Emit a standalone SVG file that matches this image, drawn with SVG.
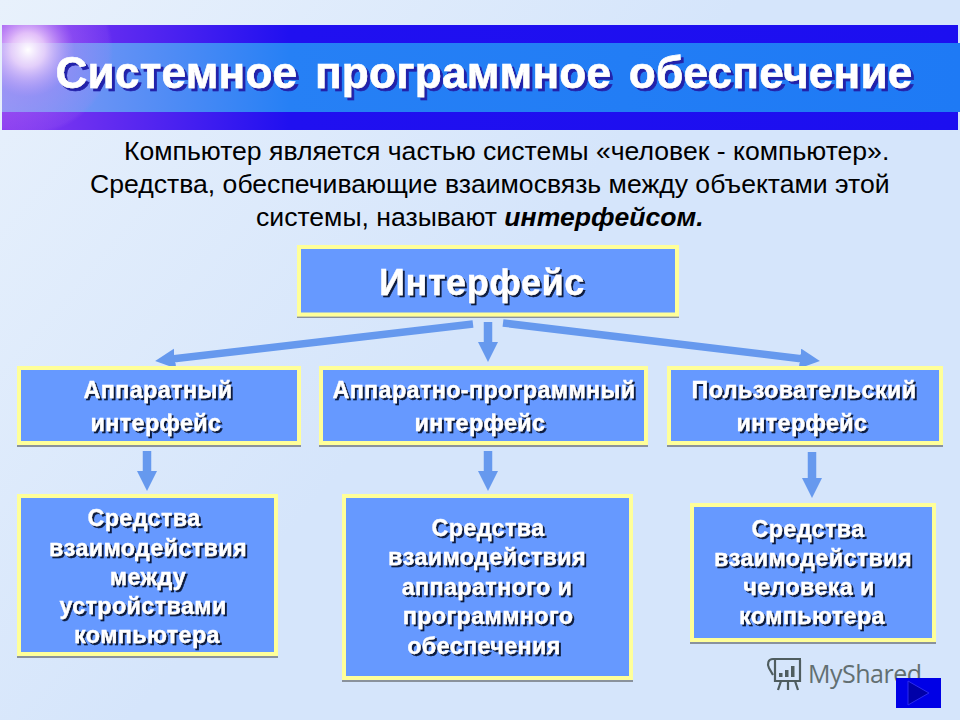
<svg xmlns="http://www.w3.org/2000/svg" width="960" height="720" viewBox="0 0 960 720">
<style>
text{font-family:"Liberation Sans",Arial,sans-serif}
.b{font-size:23.3px;font-weight:bold;fill:#fff;stroke:#fff;stroke-width:.3;text-anchor:middle;letter-spacing:.4px;filter:url(#ts)}
.p{font-size:26.6px;fill:#000}
.box{fill:#6699ff;stroke:#ffff99;stroke-width:4;filter:url(#bs)}
.cn{fill:none;stroke:#6699ee;stroke-width:8.5;marker-end:url(#ah)}
.sl{stroke-width:7.5}
</style>
<defs>
<linearGradient id="bg" x1="0" y1="0" x2=".55" y2=".35"><stop offset="0" stop-color="#e8f1fc"/><stop offset="1" stop-color="#d5e5fb"/></linearGradient>
<linearGradient id="dark" x1="0" y1="0" x2="1" y2="0"><stop offset="0" stop-color="#8a3cf0"/><stop offset=".3" stop-color="#2010f0"/><stop offset="1" stop-color="#1c0ff0"/></linearGradient>
<linearGradient id="mid" x1="0" y1="0" x2="1" y2="0"><stop offset="0" stop-color="#8a9cf5"/><stop offset=".3" stop-color="#2680f5"/><stop offset="1" stop-color="#1e7af5"/></linearGradient>
<radialGradient id="flare" gradientUnits="userSpaceOnUse" cx="28" cy="50" r="85"><stop offset="0" stop-color="#fff" stop-opacity="1"/><stop offset=".2" stop-color="#f4d8fb" stop-opacity=".85"/><stop offset=".55" stop-color="#c080f5" stop-opacity=".3"/><stop offset=".95" stop-color="#c080f5" stop-opacity=".12"/><stop offset="1" stop-color="#c080f5" stop-opacity="0"/></radialGradient>
<filter id="ts" x="-10%" y="-20%" width="120%" height="150%"><feDropShadow dx="2" dy="2" stdDeviation=".6" flood-color="#101c40"/></filter>
<filter id="tt" x="-5%" y="-20%" width="110%" height="150%"><feDropShadow dx="3" dy="3" stdDeviation=".4" flood-color="#2222aa"/></filter>
<filter id="bs" x="-5%" y="-5%" width="110%" height="110%"><feDropShadow dx="0" dy="2" stdDeviation="0" flood-color="#8a929c"/></filter>
<marker id="ah" markerUnits="userSpaceOnUse" markerWidth="22" markerHeight="22" refX="1" refY="10" orient="auto"><path d="M0 0L20 10L0 20Z" fill="#6699ee"/></marker>
</defs>
<rect width="960" height="720" fill="url(#bg)"/>
<g id="title">
<rect x="2" y="25" width="956" height="105" fill="url(#dark)"/>
<rect x="2" y="43" width="958" height="69" fill="url(#mid)"/>
<rect x="2" y="25" width="120" height="105" fill="url(#flare)"/>
<text x="484" y="88" text-anchor="middle" font-size="44" font-weight="bold" fill="#fff" stroke="#fff" stroke-width=".6" letter-spacing=".3" word-spacing="5" filter="url(#tt)">Системное программное обеспечение</text>
</g>
<g id="intro">
<text class="p" x="124" y="160">Компьютер является частью системы «человек - компьютер».</text>
<text class="p" x="90" y="193">Средства, обеспечивающие взаимосвязь между объектами этой</text>
<text class="p" x="256" y="226">системы, называют <tspan font-weight="bold" font-style="italic">интерфейсом.</tspan></text>
</g>
<g id="connectors">
<line class="cn sl" x1="473" y1="324" x2="174" y2="358.8"/>
<line class="cn" x1="488" y1="322" x2="488" y2="343"/>
<line class="cn sl" x1="503" y1="323" x2="801" y2="358.7"/>
<line class="cn" x1="147" y1="451" x2="147" y2="472"/>
<line class="cn" x1="488" y1="451" x2="488" y2="472"/>
<line class="cn" x1="812" y1="452" x2="812" y2="479"/>
</g>
<g id="n-interface"><rect class="box" x="299" y="247" width="378" height="67.5"/>
<text x="482" y="295" text-anchor="middle" font-size="36" font-weight="bold" fill="#fff" stroke="#fff" stroke-width=".3" letter-spacing=".6" filter="url(#ts)">Интерфейс</text></g>
<g id="n-hw"><rect class="box" x="19" y="368" width="280" height="75"/>
<text class="b" x="158" y="398">Аппаратный</text><text class="b" x="156" y="431">интерфейс</text></g>
<g id="n-hwsw"><rect class="box" x="321" y="368" width="325" height="75"/>
<text class="b" x="484" y="398">Аппаратно-программный</text><text class="b" x="480" y="431">интерфейс</text></g>
<g id="n-user"><rect class="box" x="669" y="368" width="272" height="75"/>
<text class="b" x="804" y="398">Пользовательский</text><text class="b" x="802" y="431">интерфейс</text></g>
<g id="n-d1"><rect class="box" x="19" y="496" width="257" height="158"/>
<text class="b" x="144" y="526">Средства</text><text class="b" x="148" y="556">взаимодействия</text><text class="b" x="148" y="585">между</text><text class="b" x="143" y="614">устройствами</text><text class="b" x="147" y="643">компьютера</text></g>
<g id="n-d2"><rect class="box" x="344" y="496" width="287" height="182"/>
<text class="b" x="488" y="536">Средства</text><text class="b" x="487" y="565">взаимодействия</text><text class="b" x="487" y="595">аппаратного и</text><text class="b" x="488" y="624">программного</text><text class="b" x="484" y="654">обеспечения</text></g>
<g id="n-d3"><rect class="box" x="692" y="505" width="242" height="135"/>
<text class="b" x="808" y="537">Средства</text><text class="b" x="813" y="566">взаимодействия</text><text class="b" x="809" y="595">человека и</text><text class="b" x="812" y="624">компьютера</text></g>
<g id="watermark">
<g fill="none" stroke="#4f5d5f" stroke-width="2.2">
<path d="M773 659h28M775 660v21h25v-21"/><path d="M773 659c-5 0-6 5-4 9l4 7"/><path d="M781 681l-3 9M788 681v9M795 681l3 9"/></g>
<g fill="#4f5d5f"><rect x="779" y="673" width="3.5" height="4"/><rect x="785" y="670" width="3.5" height="7"/><rect x="791" y="666" width="3.5" height="11"/></g>
<text x="808" y="683" font-size="25" fill="#626f71" style="font-family:'Open Sans','Liberation Sans',sans-serif" textLength="114">MyShared</text>
</g>
<g id="nav"><rect x="896" y="678" width="45" height="30" fill="#0000e6"/><path d="M908 681L929 693L908 705Z" fill="#0000a8" stroke="#2a2af0"/></g>
</svg>
